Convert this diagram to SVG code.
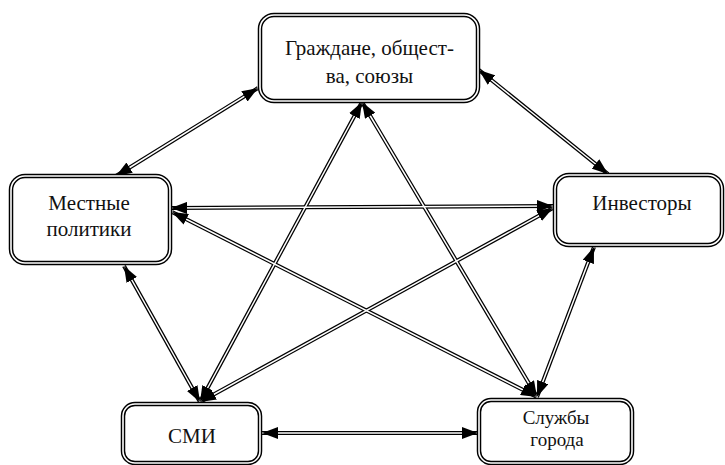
<svg xmlns="http://www.w3.org/2000/svg" width="725" height="465" viewBox="0 0 725 465">
<style>
.bo{fill:#fff;stroke:#000;stroke-width:4.5}
.bi{fill:none;stroke:#fff;stroke-width:1.6}
.t{font-family:"Liberation Serif","Times New Roman",serif;font-size:21px;fill:#111;text-anchor:middle}
.s{font-size:19px}
.co{fill:none;stroke:#000;stroke-width:4}
.ci{fill:none;stroke:#fff;stroke-width:1.5;marker-start:url(#ah);marker-end:url(#ah)}
</style>
<defs>
<marker id="ah" markerUnits="userSpaceOnUse" markerWidth="16" markerHeight="12" refX="16" refY="6" orient="auto-start-reverse">
<path d="M0,0 L16,6 L0,12 z" fill="#000"/>
</marker>
<path id="l1" d="M258,88 L116,176"/>
<path id="l2" d="M479,70 L608,174"/>
<path id="l3" d="M171,208 L553,206"/>
<path id="l4" d="M172,212 L537,397"/>
<path id="l5" d="M553,208 L200,402"/>
<path id="l6" d="M124,266 L200,402"/>
<path id="l7" d="M262,433 L478,433"/>
<path id="l8" d="M537,397 L594,247"/>
<path id="l9" d="M362,102 L200,402"/>
<path id="l10" d="M362,102 L537,397"/>
</defs>
<rect width="725" height="465" fill="#fff"/>
<g id="connectors">
<use href="#l1" class="co"/><use href="#l2" class="co"/><use href="#l3" class="co"/><use href="#l4" class="co"/><use href="#l5" class="co"/>
<use href="#l6" class="co"/><use href="#l7" class="co"/><use href="#l8" class="co"/><use href="#l9" class="co"/><use href="#l10" class="co"/>
<use href="#l1" class="ci"/><use href="#l2" class="ci"/><use href="#l3" class="ci"/><use href="#l4" class="ci"/><use href="#l5" class="ci"/>
<use href="#l6" class="ci"/><use href="#l7" class="ci"/><use href="#l8" class="ci"/><use href="#l9" class="ci"/><use href="#l10" class="ci"/>
</g>
<g id="citizens">
<rect class="bo" x="260" y="15" width="218" height="86" rx="14"/>
<rect class="bi" x="260" y="15" width="218" height="86" rx="14"/>
<text class="t" x="369.5" y="55">Граждане, общест-</text>
<text class="t" x="369.5" y="83">ва, союзы</text>
</g>
<g id="politicians">
<rect class="bo" x="11" y="176" width="159" height="87" rx="14"/>
<rect class="bi" x="11" y="176" width="159" height="87" rx="14"/>
<text class="t" x="89" y="210">Местные</text>
<text class="t" x="89" y="236">политики</text>
</g>
<g id="investors">
<rect class="bo" x="555" y="175" width="167" height="70" rx="14"/>
<rect class="bi" x="555" y="175" width="167" height="70" rx="14"/>
<text class="t" x="642" y="210">Инвесторы</text>
</g>
<g id="media">
<rect class="bo" x="123" y="404" width="137" height="59" rx="12"/>
<rect class="bi" x="123" y="404" width="137" height="59" rx="12"/>
<text class="t" x="192" y="443">СМИ</text>
</g>
<g id="services">
<rect class="bo" x="479" y="400" width="153" height="63" rx="12"/>
<rect class="bi" x="479" y="400" width="153" height="63" rx="12"/>
<text class="t s" x="556" y="424">Службы</text>
<text class="t s" x="557" y="446">города</text>
</g>
</svg>
